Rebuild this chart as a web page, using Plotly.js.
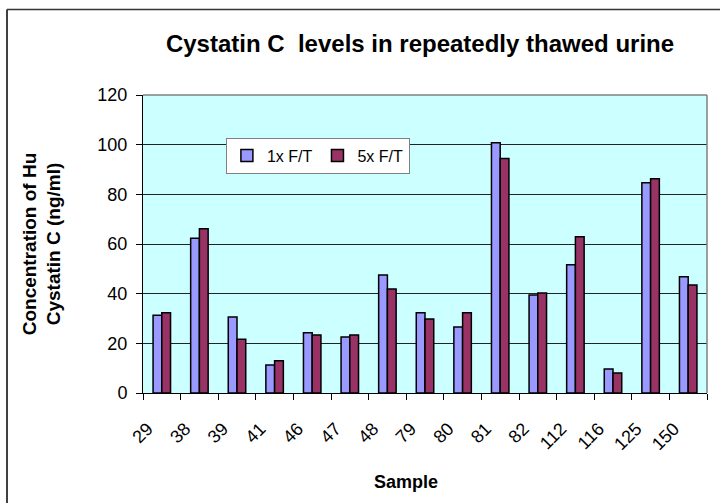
<!DOCTYPE html>
<html>
<head>
<meta charset="utf-8">
<script src="https://cdn.plot.ly/plotly-3.0.1.min.js"></script>
<style>html,body{margin:0;padding:0;background:#fff;}#chart{width:720px;height:503px;}</style>
</head>
<body>
<div id="chart"></div>
<script>
const samples = ["29","38","39","41","46","47","48","79","80","81","82","112","116","125","150"];
const ft1x = [31.3, 62.3, 30.6, 11.3, 24.3, 22.6, 47.5, 32.3, 26.6, 100.8, 39.5, 51.6, 9.7, 84.7, 46.8];
const ft5x = [32.3, 66.1, 21.6, 13.0, 23.4, 23.4, 41.9, 29.8, 32.3, 94.4, 40.3, 62.9, 8.1, 86.3, 43.5];
const seriesNames = ["1x F/T", "5x F/T"];

const font = "Liberation Sans, Arial, sans-serif";
const traces = [
  {type: "bar", name: seriesNames[0], x: samples, y: ft1x,
   marker: {color: "#9999FF", line: {color: "#000000", width: 1.5}}},
  {type: "bar", name: seriesNames[1], x: samples, y: ft5x,
   marker: {color: "#993366", line: {color: "#000000", width: 1.5}}}
];

// trailing no-break spaces shift the rotated labels slightly left/down like the original
const tickLabels = samples.map(s => s + "\u00a0\u00a0\u00a0\u00a0");

const layout = {
  width: 720, height: 503,
  margin: {l: 143, r: 13, t: 94.5, b: 110.3},
  paper_bgcolor: "#FFFFFF",
  plot_bgcolor: "#CCFFFF",
  font: {family: font, color: "#000000", size: 18},
  barmode: "group",
  bargap: 0.535,
  bargroupgap: 0,
  showlegend: true,
  title: {text: "<b>Cystatin C  levels in repeatedly thawed urine</b>",
          font: {family: font, size: 24, color: "#000"},
          x: 420 / 720, xref: "container", xanchor: "center",
          y: 1 - 44 / 503, yref: "container", yanchor: "middle"},
  xaxis: {type: "category", tickangle: -45, tickson: "boundaries",
          tickmode: "array", tickvals: samples, ticktext: tickLabels,
          ticks: "outside", ticklen: 6, tickcolor: "#000",
          showline: true, linecolor: "#000", linewidth: 1,
          showgrid: false, tickfont: {family: font, size: 18},
          ticklabelstandoff: 3},
  yaxis: {range: [0, 120], dtick: 20, ticks: "outside", ticklen: 6, tickcolor: "#000",
          showline: true, linecolor: "#000", linewidth: 1,
          showgrid: true, gridcolor: "#222222", gridwidth: 1,
          zeroline: false, tickfont: {family: font, size: 18},
          ticklabelstandoff: 5,
          title: {text: "<b>Concentration of Hu<br>Cystatin C (ng/ml)</b>",
                  font: {family: font, size: 19}, standoff: 31}},
  legend: {orientation: "h", x: 0.147, y: 0.857, xanchor: "left", yanchor: "top",
           bgcolor: "#FFFFFF", bordercolor: "#808080", borderwidth: 1,
           font: {family: font, size: 16}, itemwidth: 30, tracegroupgap: 0},
  annotations: [
    {text: "<b>Sample</b>", xref: "paper", yref: "paper",
     x: (406 - 143) / 564, y: (392.7 - 482) / 298.2, xanchor: "center", yanchor: "middle",
     showarrow: false, font: {family: font, size: 18}}
  ],
  shapes: [
    {type: "line", xref: "paper", yref: "paper", x0: 0, x1: 1, y0: 1, y1: 1,
     line: {color: "#808080", width: 1.5}},
    {type: "line", xref: "paper", yref: "paper", x0: 1, x1: 1, y0: 0, y1: 1,
     line: {color: "#808080", width: 1.5}},
    {type: "line", xref: "paper", yref: "paper",
     x0: (7 - 143) / 564, x1: (7 - 143) / 564, y0: (392.7 - 9) / 298.2, y1: (392.7 - 510) / 298.2,
     line: {color: "#000000", width: 1.5}},
    {type: "line", xref: "paper", yref: "paper",
     x0: (7 - 143) / 564, x1: (730 - 143) / 564, y0: (392.7 - 9) / 298.2, y1: (392.7 - 9) / 298.2,
     line: {color: "#333333", width: 1.5}}
  ]
};

Plotly.newPlot("chart", traces, layout, {displayModeBar: false, staticPlot: true});
</script>
</body>
</html>
